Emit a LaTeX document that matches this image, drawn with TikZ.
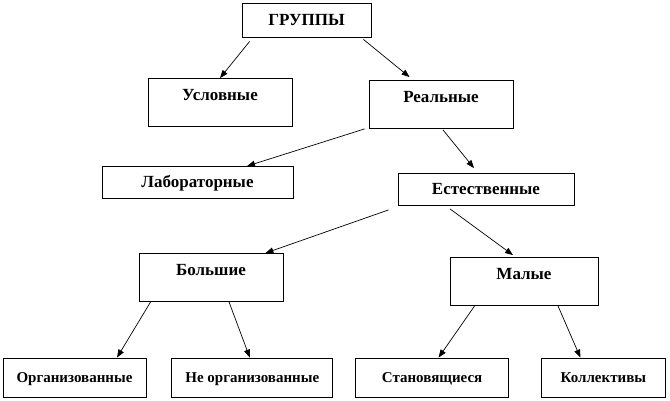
\documentclass[tikz,border=0pt]{standalone}
\usepackage{fontspec}
\setmainfont{Liberation Serif}
\usepackage{tikz}
\usetikzlibrary{positioning,arrows.meta,calc}
\tikzset{
  box/.style ={draw, line width=0.8pt, inner sep=0pt,
               font=\bfseries\fontsize{17}{19}\selectfont, text=black},
  head/.style={box, text height=22pt, text depth=12pt},
  tall/.style={box, text height=22pt, text depth=26pt},
  flat/.style={box, text height=21pt, text depth=11pt},
  leaf/.style={box, font=\bfseries\fontsize{15}{17}\selectfont,
               text height=24pt, text depth=15pt},
  link/.style={-{Triangle[length=8pt,width=6pt]}, line width=0.7pt},
}

\begin{document}
\begin{tikzpicture}[x=1pt, y=1pt]
  \useasboundingbox (0,0) rectangle (670,-400);

  % ---- levels ----
  \node[head, minimum width=129pt] (grp)  at (306.5,-20)  {ГРУППЫ};
  \node[tall, minimum width=144pt] (usl)  at (220,-102.5) {Условные};
  \node[tall, minimum width=144pt] (real) at (441,-104.5) {Реальные};
  \node[flat, minimum width=191pt] (lab)  at (197.5,-182.5) {Лабораторные};
  \node[flat, minimum width=176pt] (est)  at (486,-189.5) {Естественные};
  \node[tall, minimum width=144pt] (big)  at (211,-277.5) {Большие};
  \node[tall, minimum width=148pt] (small) at (524,-281.5) {Малые};

  % ---- bottom row ----
  \node[leaf, minimum width=143pt] (org)  at (74.5,-377.5) {Организованные};
  \node[leaf, minimum width=161pt, right=25pt of org] (norg) {Не организованные};
  \node[leaf, minimum width=153pt, right=22pt of norg] (becom) {Становящиеся};
  \node[leaf, minimum width=124pt, right=32pt of becom] (coll) {Коллективы};

  % ---- links ----
  \draw[link] ($(grp.south west)+(8,-4)$) -- (usl.north);
  \draw[link] ($(grp.south east)+(-8,-2)$) -- ($(real.north west)+(41,3)$);
  \draw[link] ($(real.south west)+(-4,0)$) -- ($(lab.north)+(49.5,0)$);
  \draw[link] ($(real.south)+(2,-1)$) -- ($(est.north)+(-12,5)$);
  \draw[link] ($(est.south west)+(-9,-4)$) -- ($(big.north east)+(-18,0)$);
  \draw[link] ($(est.south)+(-36,-3)$) -- ($(small.north)+(-11,2)$);
  \draw[link] ($(big.south west)+(12,0)$) -- ($(org.north)+(42.5,0)$);
  \draw[link] ($(big.south)+(18,0)$) -- ($(norg.north)+(-2.5,0)$);
  \draw[link] ($(small.south west)+(25,0)$) -- ($(becom.north)+(6.5,0)$);
  \draw[link] ($(small.south)+(34,0)$) -- ($(coll.north)+(-23,0)$);
\end{tikzpicture}
\end{document}
